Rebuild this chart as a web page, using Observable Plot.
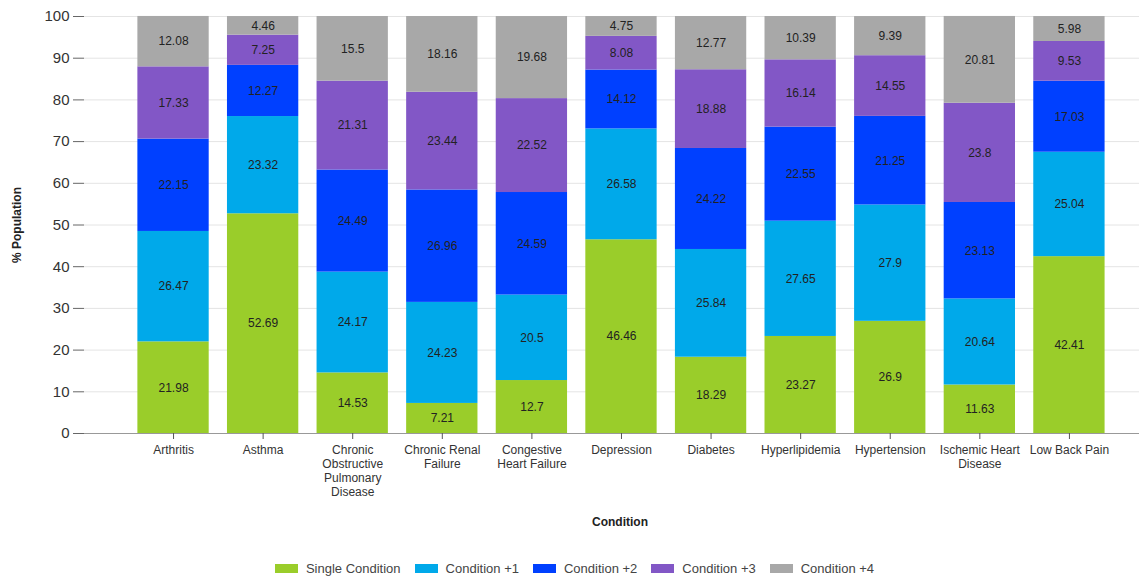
<!DOCTYPE html>
<html>
<head>
<meta charset="utf-8">
<script src="https://cdn.jsdelivr.net/npm/d3@7"></script>
<script src="https://cdn.jsdelivr.net/npm/@observablehq/plot@0.6"></script>
<style>
  body { margin: 0; background: #fff; font-family: "Liberation Sans", Arial, sans-serif; }
  #legend { display: flex; justify-content: center; align-items: center; gap: 14px; font-size: 13px; color: #444; margin-top: 11px; padding-left: 10px; }
  #legend .item { display: flex; align-items: center; gap: 8px; }
  #legend .sw { width: 23px; height: 9px; display: inline-block; }
</style>
</head>
<body>
<div id="chart"></div>
<div id="legend"></div>
<script>
const conditions = ["Arthritis", "Asthma", "Chronic Obstructive Pulmonary Disease", "Chronic Renal Failure", "Congestive Heart Failure", "Depression", "Diabetes", "Hyperlipidemia", "Hypertension", "Ischemic Heart Disease", "Low Back Pain"];
const tickLabels = ["Arthritis", "Asthma", "Chronic\nObstructive\nPulmonary\nDisease", "Chronic Renal\nFailure", "Congestive\nHeart Failure", "Depression", "Diabetes", "Hyperlipidemia", "Hypertension", "Ischemic Heart\nDisease", "Low Back Pain"];
const seriesNames = ["Single Condition", "Condition +1", "Condition +2", "Condition +3", "Condition +4"];
const seriesColors = ["#9acd2a", "#00a9ea", "#0040ff", "#8257c6", "#a8a8a8"];
const singleCondition = [21.98, 52.69, 14.53, 7.21, 12.7, 46.46, 18.29, 23.27, 26.9, 11.63, 42.41];
const conditionPlus1 = [26.47, 23.32, 24.17, 24.23, 20.5, 26.58, 25.84, 27.65, 27.9, 20.64, 25.04];
const conditionPlus2 = [22.15, 12.27, 24.49, 26.96, 24.59, 14.12, 24.22, 22.55, 21.25, 23.13, 17.03];
const conditionPlus3 = [17.33, 7.25, 21.31, 23.44, 22.52, 8.08, 18.88, 16.14, 14.55, 23.8, 9.53];
const conditionPlus4 = [12.08, 4.46, 15.5, 18.16, 19.68, 4.75, 12.77, 10.39, 9.39, 20.81, 5.98];
const yTicks = [0, 10, 20, 30, 40, 50, 60, 70, 80, 90, 100];

const seriesValues = [singleCondition, conditionPlus1, conditionPlus2, conditionPlus3, conditionPlus4];
const rows = [];
seriesNames.forEach((s, si) => {
  conditions.forEach((c, ci) => rows.push({condition: c, series: s, value: seriesValues[si][ci]}));
});
const labelOf = new Map(conditions.map((c, i) => [c, tickLabels[i]]));

const W = 1139, H = 550;
const plot = Plot.plot({
  width: W,
  height: H,
  marginLeft: 84,
  marginRight: 0,
  marginTop: 16,
  marginBottom: H - 433,
  style: {fontFamily: "'Liberation Sans', Arial, sans-serif", background: "#fff"},
  x: {domain: conditions, round: false, paddingInner: 0.204, paddingOuter: 0.49, align: 0.608, label: null},
  y: {domain: [0, 100], label: null},
  color: {domain: seriesNames, range: seriesColors},
  marks: [
    Plot.gridY(yTicks, {stroke: "#e4e4e4", strokeOpacity: 1, strokeWidth: 1}),
    Plot.barY(rows, {x: "condition", y: "value", z: "series", fill: "series", order: seriesNames}),
    Plot.textY(rows, Plot.stackY({x: "condition", y: "value", z: "series", order: seriesNames, text: d => String(d.value), fill: "#222", fontSize: 12})),
    Plot.axisY({ticks: yTicks, tickSize: 11, tickPadding: 4, fontSize: 15, color: "#333", stroke: "#666", label: null}),
    Plot.ruleX([0], {frameAnchor: "left", y1: 0, y2: 100, insetBottom: -7, stroke: "#777"}),
    Plot.ruleY([0], {stroke: "#999"}),
    Plot.axisX({tickSize: 6, tickPadding: 5, fontSize: 12, color: "#333", stroke: "#555", tickFormat: d => labelOf.get(d), lineHeight: 1.15, label: null})
  ]
});
const svg = d3.select(plot);
svg.append("text")
  .attr("transform", "translate(21,225) rotate(-90)")
  .attr("text-anchor", "middle")
  .attr("font-size", 12).attr("font-weight", "bold").attr("fill", "#222")
  .text("% Population");
svg.append("text")
  .attr("x", 620).attr("y", 526)
  .attr("text-anchor", "middle")
  .attr("font-size", 12).attr("font-weight", "bold").attr("fill", "#222")
  .text("Condition");
document.getElementById("chart").appendChild(plot);

const legend = d3.select("#legend");
seriesNames.forEach((s, i) => {
  const item = legend.append("div").attr("class", "item");
  item.append("span").attr("class", "sw").style("background", seriesColors[i]);
  item.append("span").text(s);
});
</script>
</body>
</html>
